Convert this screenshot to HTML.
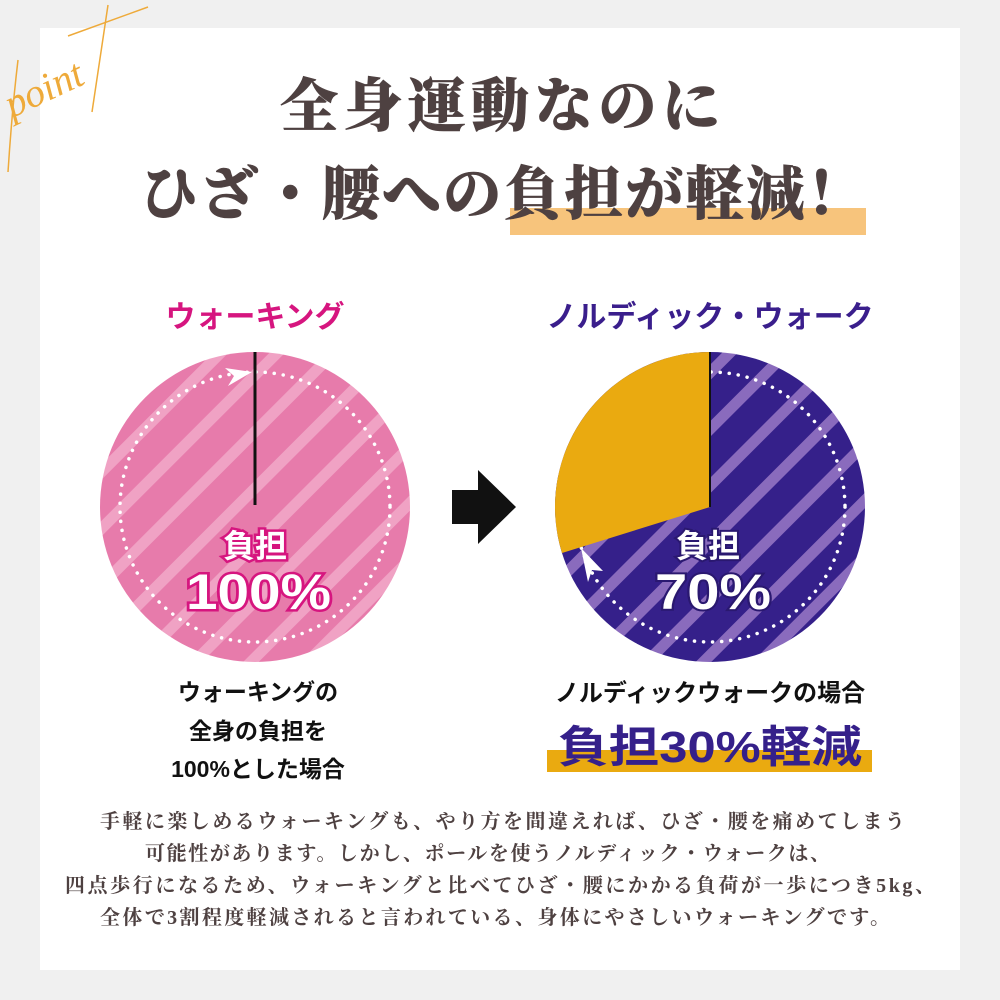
<!DOCTYPE html>
<html><head><meta charset="utf-8"><style>
html,body{margin:0;padding:0;width:1000px;height:1000px;background:#f0f0f0;overflow:hidden}
svg{display:block}
</style></head><body>
<svg width="1000" height="1000" xmlns="http://www.w3.org/2000/svg">
<defs>
<pattern id="pk" patternUnits="userSpaceOnUse" width="40" height="40" patternTransform="rotate(-45)">
<rect width="40" height="40" fill="#e77bab"/><rect width="40" height="11" fill="#f0a2c4"/></pattern>
<pattern id="pu" patternUnits="userSpaceOnUse" width="40" height="40" patternTransform="rotate(-45)">
<rect width="40" height="40" fill="#35208a"/><rect width="40" height="11" fill="#8a6bbd"/></pattern>
</defs>
<rect x="40" y="28" width="920" height="942" fill="#fff"/>
<g fill="none" stroke="#eeaa3a" stroke-width="1.5">
<path d="M68 36 L148 7"/><path d="M108 5 Q100 60 92 112"/>
<path d="M18 60 Q12 110 8 172"/>
</g>
<text x="12" y="118" font-family="Liberation Serif,serif" font-style="italic" font-size="40" fill="#eeaa3a" transform="rotate(-25 12 118)">point</text>
<rect x="510" y="208" width="356" height="27" fill="#f7c47c"/>
<g font-family="'Liberation Serif','Noto Serif CJK SC',serif" font-weight="900" fill="#4e4141" font-size="58" stroke="#4e4141" stroke-width="0.6">
<text x="280" y="126" textLength="440" lengthAdjust="spacing">全身運動なのに</text>
<text x="140" y="214" textLength="725" lengthAdjust="spacing">ひざ・腰への負担が軽減！</text>
</g>
<g font-family="'Liberation Sans','Noto Sans CJK JP',sans-serif" font-weight="bold">
<text x="255" y="327" text-anchor="middle" font-size="30" fill="#d6157f">ウォーキング</text>
<text x="710" y="327" text-anchor="middle" font-size="30" fill="#3a1e8c">ノルディック・ウォーク</text>
</g>
<circle cx="255" cy="507" r="155" fill="url(#pk)"/>
<circle cx="255" cy="507" r="135" fill="none" stroke="#fff" stroke-width="3.5" stroke-dasharray="0.1 9" stroke-linecap="round"/>
<line x1="255" y1="352" x2="255" y2="505" stroke="#111" stroke-width="3"/>
<path d="M225 368 L252 372 L228 386 L234 376 Z" fill="#fff"/>
<circle cx="710" cy="507" r="155" fill="url(#pu)"/>
<circle cx="710" cy="507" r="135" fill="none" stroke="#fff" stroke-width="3.5" stroke-dasharray="0.1 9" stroke-linecap="round"/>
<path d="M710 507 L710 352 A155 155 0 0 0 562 553 Z" fill="#eaaa10"/>
<line x1="710" y1="352" x2="710" y2="507" stroke="#111" stroke-width="2"/>
<path d="M581 548 L603 571 L592 570 L588 582 Z" fill="#fff"/>
<path d="M452 490 L478 490 L478 470 L516 507 L478 544 L478 524 L452 524 Z" fill="#111"/>
<g font-family="'Liberation Sans','Noto Sans CJK JP',sans-serif" font-weight="bold" text-anchor="middle" fill="#fff">
<text x="255" y="557" font-size="32" stroke="#d6157f" stroke-width="5" paint-order="stroke">負担</text>
<text x="186" y="609" font-size="50" stroke="#d6157f" stroke-width="5" paint-order="stroke" text-anchor="start" textLength="145" lengthAdjust="spacingAndGlyphs">100%</text>
<text x="708" y="557" font-size="32" stroke="#2a1870" stroke-width="4" paint-order="stroke">負担</text>
<text x="655" y="609" font-size="50" stroke="#2a1870" stroke-width="4" paint-order="stroke" text-anchor="start" textLength="116" lengthAdjust="spacingAndGlyphs">70%</text>
</g>
<g font-family="'Liberation Sans','Noto Sans CJK JP',sans-serif" font-weight="bold" fill="#111" text-anchor="middle" font-size="23">
<text x="258" y="700">ウォーキングの</text>
<text x="258" y="739">全身の負担を</text>
<text x="258" y="777">100%とした場合</text>
<text x="710" y="701" font-size="24">ノルディックウォークの場合</text>
</g>
<rect x="547" y="750" width="325" height="22" fill="#eaaa10"/>
<text x="558" y="762" font-family="'Liberation Sans','Noto Sans CJK JP',sans-serif" font-weight="bold" font-size="44" fill="#35208a" textLength="304" lengthAdjust="spacingAndGlyphs">負担30%軽減</text>
<g font-family="'Liberation Serif','Noto Serif CJK SC',serif" font-weight="bold" fill="#4e4141" font-size="20">
<text x="100" y="828" textLength="805" lengthAdjust="spacing">手軽に楽しめるウォーキングも、やり方を間違えれば、ひざ・腰を痛めてしまう</text>
<text x="145" y="860" textLength="685" lengthAdjust="spacing">可能性があります。しかし、ポールを使うノルディック・ウォークは、</text>
<text x="65" y="892" textLength="870" lengthAdjust="spacing">四点歩行になるため、ウォーキングと比べてひざ・腰にかかる負荷が一歩につき5kg、</text>
<text x="100" y="924" textLength="790" lengthAdjust="spacing">全体で3割程度軽減されると言われている、身体にやさしいウォーキングです。</text>
</g>
</svg>
</body></html>
